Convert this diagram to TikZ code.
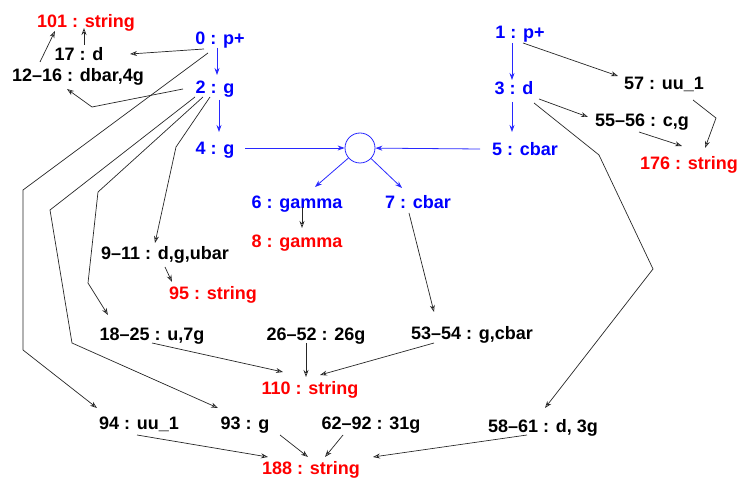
\documentclass[tikz,border=0pt]{standalone}
\usepackage{fontspec}
\setmainfont{Liberation Sans}
\usetikzlibrary{arrows.meta}
\definecolor{nblue}{RGB}{0,0,255}
\definecolor{nred}{RGB}{255,0,0}
\definecolor{eblue}{RGB}{40,40,255}
\begin{document}
\begin{tikzpicture}[x=1pt,y=-1pt,
  lbl/.style={inner sep=0pt,text height=13pt,text depth=0pt,font=\fontsize{18pt}{20pt}\selectfont\bfseries},
  bl/.style={lbl,text=nblue},
  rd/.style={lbl,text=nred},
  bk/.style={lbl,text=black},
  arr/.style={draw=black!85,line width=0.7pt,-{Stealth[length=7pt,width=5pt,open]}},
  barr/.style={draw=eblue,line width=0.8pt,-{Stealth[length=7pt,width=5pt]}}]
\useasboundingbox (0,0) rectangle (737,478);
% nodes
\node[rd] (n101) at (86,21) {101 : string};
\node[bk] (n17) at (79,54) {17 : d};
\node[bk] (n1216) at (78,75) {12--16 : dbar,4g};
\node[bl] (n0) at (220,38) {0 : p+};
\node[bl] (n2) at (215,87) {2 : g};
\node[bl] (n4) at (215,148) {4 : g};
\node[draw=eblue,line width=0.8pt,circle,minimum size=30pt,inner sep=0pt] (circ) at (360,148) {};
\node[bl] (n1) at (520,32) {1 : p+};
\node[bl] (n3) at (514,88) {3 : d};
\node[bl] (n5) at (525,149) {5 : cbar};
\node[bk] (n57) at (664,83) {57 : uu\_1};
\node[bk] (n5556) at (642,120) {55--56 : c,g};
\node[rd] (n176) at (689,163) {176 : string};
\node[bl] (n6) at (297,202) {6 : gamma};
\node[bl] (n7) at (418,202) {7 : cbar};
\node[rd] (n8) at (297,241) {8 : gamma};
\node[bk] (n911) at (165,253) {9--11 : d,g,ubar};
\node[rd] (n95) at (213,293) {95 : string};
\node[bk] (n1825) at (152,334) {18--25 : u,7g};
\node[bk] (n2652) at (316,334) {26--52 : 26g};
\node[bk] (n5354) at (472,333) {53--54 : g,cbar};
\node[rd] (n110) at (310,388) {110 : string};
\node[bk] (n94) at (139,423) {94 : uu\_1};
\node[bk] (n93) at (245,423) {93 : g};
\node[bk] (n6292) at (371,423) {62--92 : 31g};
\node[bk] (n5861) at (543,426) {58--61 : d, 3g};
\node[rd] (n188) at (311,468) {188 : string};
% bend points
\coordinate (b1) at (92,107);
\coordinate (b2) at (23,190);
\coordinate (b3) at (23,350);
\coordinate (b4) at (50,210);
\coordinate (b5) at (72,343);
\coordinate (b6) at (98,192);
\coordinate (b7) at (88,283);
\coordinate (b8) at (176,147);
\coordinate (b9) at (716,118);
\coordinate (b10) at (599,155);
\coordinate (b11) at (653,269);
% blue edges
\draw[barr] ([shift={(-3,10)}]n0.center) -- ([shift={(2,-12)}]n2.center);
\draw[barr] ([shift={(4,13)}]n2.center) -- ([shift={(4,-16)}]n4.center);
\draw[barr] ([shift={(-8,11)}]n1.center) -- ([shift={(-2,-8)}]n3.center);
\draw[barr] ([shift={(-2,14)}]n3.center) -- ([shift={(-13,-17)}]n5.center);
\draw[barr] ([shift={(30,0)}]n4.center) -- (circ);
\draw[barr] ([shift={(-45,0)}]n5.center) -- (circ);
\draw[barr] (circ) -- ([shift={(18,-15)}]n6.center);
\draw[barr] (circ) -- ([shift={(-16,-14)}]n7.center);
% black edges
\draw[arr] ([shift={(-16,11)}]n0.center) -- ([shift={(51,0)}]n17.center);
\draw[arr] ([shift={(-32,2)}]n2.center) -- (b1) -- ([shift={(-11,14)}]n1216.center);
\draw[arr] ([shift={(-38,-13)}]n1216.center) -- ([shift={(-31,10)}]n101.center);
\draw[arr] ([shift={(5,-9)}]n17.center) -- ([shift={(-2,7)}]n101.center);
\draw[arr] ([shift={(-12,15)}]n0.center) -- (b2) -- (b3) -- ([shift={(-42,-15)}]n94.center);
\draw[arr] ([shift={(-20,10)}]n2.center) -- (b4) -- (b5) -- ([shift={(-27,-15)}]n93.center);
\draw[arr] ([shift={(-12,10)}]n2.center) -- (b6) -- (b7) -- ([shift={(-44,-19)}]n1825.center);
\draw[arr] ([shift={(-5,10)}]n2.center) -- (b8) -- ([shift={(-10,-10)}]n911.center);
\draw[arr] ([shift={(3,11)}]n1.center) -- ([shift={(-46,-7)}]n57.center);
\draw[arr] ([shift={(29,17)}]n57.center) -- (b9) -- ([shift={(16,-15)}]n176.center);
\draw[arr] ([shift={(25,11)}]n3.center) -- ([shift={(-54,-3)}]n5556.center);
\draw[arr] ([shift={(-3,12)}]n5556.center) -- ([shift={(-7,-17)}]n176.center);
\draw[arr] ([shift={(20,15)}]n3.center) -- (b10) -- (b11) -- ([shift={(2,-18)}]n5861.center);
\draw[arr] ([shift={(5,5)}]n6.center) -- ([shift={(5,-13)}]n8.center);
\draw[arr] ([shift={(-9,11)}]n7.center) -- ([shift={(-38,-21)}]n5354.center);
\draw[arr] ([shift={(0,14)}]n911.center) -- ([shift={(-41,-11)}]n95.center);
\draw[arr] ([shift={(0,9)}]n1825.center) -- ([shift={(-27,-16)}]n110.center);
\draw[arr] ([shift={(-10,9)}]n2652.center) -- ([shift={(-4,-11)}]n110.center);
\draw[arr] ([shift={(-38,10)}]n5354.center) -- ([shift={(10,-13)}]n110.center);
\draw[arr] ([shift={(-2,12)}]n94.center) -- ([shift={(-43,-11)}]n188.center);
\draw[arr] ([shift={(35,12)}]n93.center) -- ([shift={(-3,-11)}]n188.center);
\draw[arr] ([shift={(-28,12)}]n6292.center) -- ([shift={(14,-11)}]n188.center);
\draw[arr] ([shift={(-16,9)}]n5861.center) -- ([shift={(62,-11)}]n188.center);
\end{tikzpicture}
\end{document}
